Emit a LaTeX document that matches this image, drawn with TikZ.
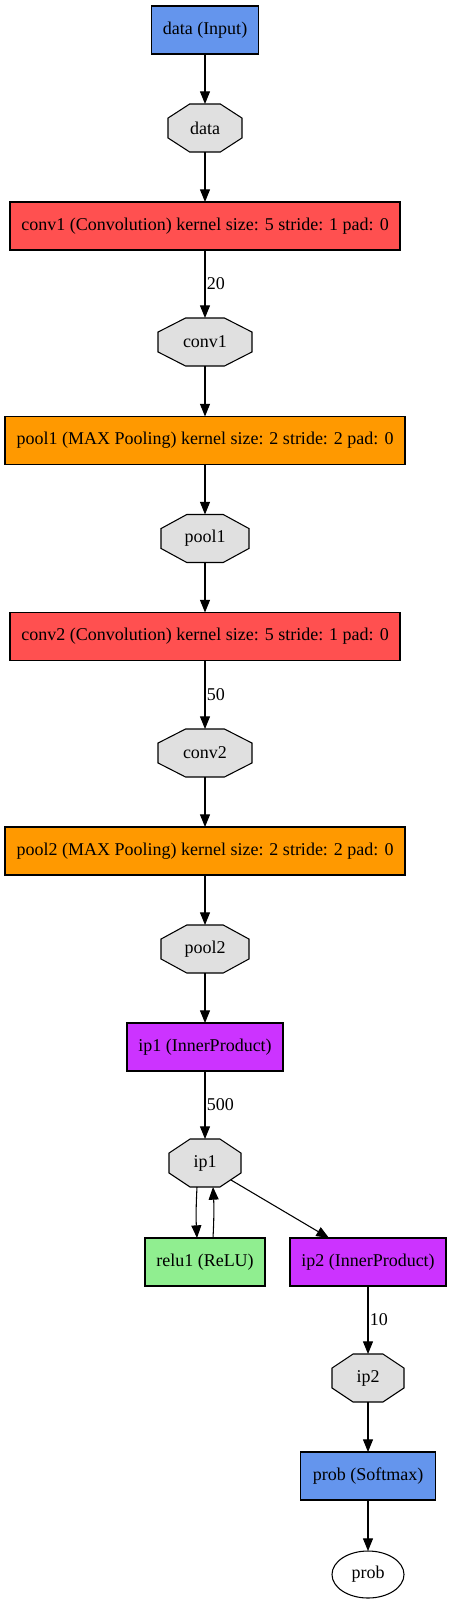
\documentclass[tikz,border=0pt]{standalone}
\usepackage{fontspec}
\setmainfont{Liberation Serif}
\usetikzlibrary{arrows.meta,calc,backgrounds,shapes.geometric}
\definecolor{inputblue}{HTML}{6495ED}
\definecolor{convred}{HTML}{FF5050}
\definecolor{poolorange}{HTML}{FF9900}
\definecolor{ipviolet}{HTML}{CC33FF}
\definecolor{relugreen}{HTML}{90EE90}
\definecolor{blobgray}{HTML}{E0E0E0}
\tikzset{
  lbl/.style={font=\fontsize{13.5pt}{16pt}\selectfont},
  box/.style={lbl, draw=black, line width=0.8pt, inner sep=0pt, outer sep=0pt, minimum height=36pt},
  octbox/.style={lbl, inner sep=0pt, outer sep=0pt, minimum height=36pt},
  octline/.style={draw=black, line width=0.8pt, fill=blobgray},
  edge/.style={-{Triangle[length=9.5pt,width=7.5pt]}, line width=0.8pt},
  elabel/.style={lbl, inner sep=1pt, right}
}
\newcommand\octshape[1]{%
  \begin{pgfonlayer}{background}
  \draw[octline] ($(#1.north west)!0.293!(#1.north east)$) -- ($(#1.north west)!0.707!(#1.north east)$)
    -- ($(#1.north east)!0.293!(#1.south east)$) -- ($(#1.north east)!0.707!(#1.south east)$)
    -- ($(#1.south west)!0.707!(#1.south east)$) -- ($(#1.south west)!0.293!(#1.south east)$)
    -- ($(#1.north west)!0.707!(#1.south west)$) -- ($(#1.north west)!0.293!(#1.south west)$) -- cycle;
  \end{pgfonlayer}}
\begin{document}
\begin{tikzpicture}[x=0.75pt, y=-0.75pt]
\useasboundingbox (0,0) rectangle (451,1604);
% layers and blobs
\node[box, fill=inputblue, minimum width=80.25pt] (datain) at (205,30) {data (Input)};
\node[octbox, minimum width=55.5pt] (data) at (205,128) {data}; \octshape{data}
\node[box, fill=convred, minimum width=292.5pt] (conv1) at (205,226) {conv1 (Convolution) kernel size: 5 stride: 1 pad: 0};
\node[octbox, minimum width=70.5pt] (conv1o) at (205,342) {conv1}; \octshape{conv1o}
\node[box, fill=poolorange, minimum width=300pt] (pool1) at (205,440.5) {pool1 (MAX Pooling) kernel size: 2 stride: 2 pad: 0};
\node[octbox, minimum width=66pt] (pool1o) at (205,538.5) {pool1}; \octshape{pool1o}
\node[box, fill=convred, minimum width=292.5pt] (conv2) at (205,636.5) {conv2 (Convolution) kernel size: 5 stride: 1 pad: 0};
\node[octbox, minimum width=70.5pt] (conv2o) at (205,753) {conv2}; \octshape{conv2o}
\node[box, fill=poolorange, minimum width=300pt] (pool2) at (205,851) {pool2 (MAX Pooling) kernel size: 2 stride: 2 pad: 0};
\node[octbox, minimum width=66pt] (pool2o) at (205,949) {pool2}; \octshape{pool2o}
\node[box, fill=ipviolet, minimum width=117pt] (ip1) at (205,1047) {ip1 (InnerProduct)};
\node[octbox, minimum width=54pt] (ip1o) at (205,1163) {ip1}; \octshape{ip1o}
\node[box, fill=relugreen, minimum width=90pt] (relu1) at (205,1262) {relu1 (ReLU)};
\node[box, fill=ipviolet, minimum width=117pt] (ip2) at (368,1262) {ip2 (InnerProduct)};
\node[octbox, minimum width=54pt] (ip2o) at (368,1378) {ip2}; \octshape{ip2o}
\node[box, fill=inputblue, minimum width=101.25pt] (prob) at (368,1476) {prob (Softmax)};
\node[lbl, ellipse, draw=black, line width=0.8pt, inner sep=0pt, outer sep=0pt, minimum width=54pt, minimum height=35.25pt] (probo) at (368,1574.5) {prob};
% connectors
\draw[edge] (datain) -- (data);
\draw[edge] (data) -- (conv1);
\draw[edge] (conv1) -- node[elabel, midway] {20} (conv1o);
\draw[edge] (conv1o) -- (pool1);
\draw[edge] (pool1) -- (pool1o);
\draw[edge] (pool1o) -- (conv2);
\draw[edge] (conv2) -- node[elabel, midway] {50} (conv2o);
\draw[edge] (conv2o) -- (pool2);
\draw[edge] (pool2) -- (pool2o);
\draw[edge] (pool2o) -- (ip1);
\draw[edge] (ip1) -- node[elabel, midway] {500} (ip1o);
\draw[edge] ($(ip1o.south)+(-8,0)$) to[bend right=3] ($(relu1.north)+(-8,0)$);
\draw[edge] ($(relu1.north)+(8,0)$) to[bend right=3] ($(ip1o.south)+(8,0)$);
\draw[edge] ($(ip1o.center)+(26,17)$) -- ($(ip2.north west)!0.25!(ip2.north east)$);
\draw[edge] (ip2) -- node[elabel, midway] {10} (ip2o);
\draw[edge] (ip2o) -- (prob);
\draw[edge] (prob) -- (probo);
\end{tikzpicture}
\end{document}
